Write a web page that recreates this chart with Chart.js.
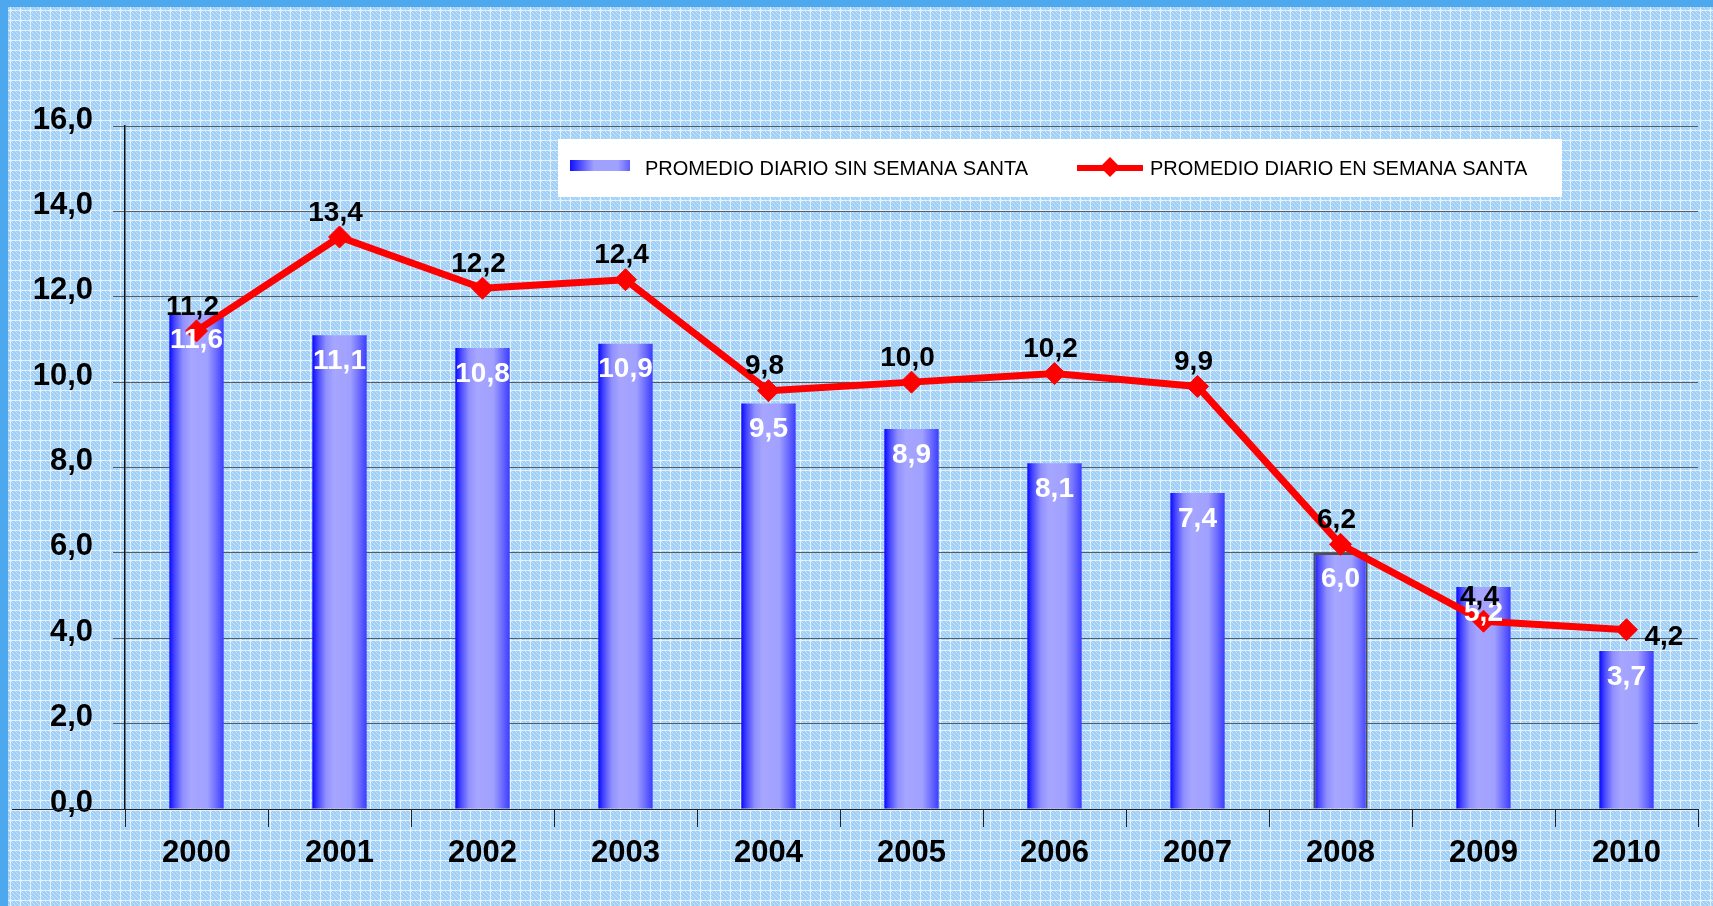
<!DOCTYPE html>
<html>
<head>
<meta charset="utf-8">
<script src="https://cdn.jsdelivr.net/npm/chart.js@4/dist/chart.umd.min.js"></script>
<style>
  html, body { margin: 0; padding: 0; background: #b4dcfa; }
  #wrap { width: 1713px; height: 906px; }
</style>
</head>
<body>
<div id="wrap"><canvas id="chart" width="1713" height="906"></canvas></div>
<script>
const years = ['2000', '2001', '2002', '2003', '2004', '2005', '2006', '2007', '2008', '2009', '2010'];
const sinSemanaSanta = [11.6, 11.1, 10.8, 10.9, 9.5, 8.9, 8.1, 7.4, 6.0, 5.2, 3.7];
const enSemanaSanta = [11.2, 13.4, 12.2, 12.4, 9.8, 10.0, 10.2, 9.9, 6.2, 4.4, 4.2];
const yTicks = [0, 2, 4, 6, 8, 10, 12, 14, 16];

const FONT = "'Liberation Sans', Arial, sans-serif";
const fmt = v => v.toFixed(1).replace('.', ',');

// fondo con textura de cuadricula
function makePattern(ctx) {
  const t = document.createElement('canvas');
  t.width = 10; t.height = 10;
  const c = t.getContext('2d');
  c.fillStyle = '#a2cff6';
  c.fillRect(0, 0, 10, 10);
  for (let y = 1; y < 10; y++) {
    for (let x = 1; x < 10; x++) {
      if ((x * 3 + y * 5) % 4 === 0) { c.fillStyle = '#c4e3fc'; c.fillRect(x, y, 1, 1); }
    }
  }
  c.fillStyle = '#e4f2fe';
  c.fillRect(0, 0, 10, 1);
  c.fillRect(0, 0, 1, 10);
  return ctx.createPattern(t, 'repeat');
}

const background = {
  id: 'background',
  beforeDraw(chart) {
    const ctx = chart.ctx;
    ctx.save();
    ctx.fillStyle = makePattern(ctx);
    ctx.fillRect(0, 0, chart.width, chart.height);
    ctx.fillStyle = '#4ea8ee';
    ctx.fillRect(0, 0, chart.width, 7);
    ctx.fillRect(0, 0, 8, chart.height);
    ctx.restore();
  },
  afterDraw(chart) {
    // la linea base sigue hacia la izquierda del eje
    const ctx = chart.ctx;
    const y0 = chart.scales.y.getPixelForValue(0);
    ctx.save();
    ctx.strokeStyle = '#222';
    ctx.lineWidth = 1;
    ctx.beginPath();
    ctx.moveTo(12, y0 + 0.5);
    ctx.lineTo(chart.chartArea.left, y0 + 0.5);
    ctx.stroke();
    ctx.restore();
  }
};

const valueLabels = {
  id: 'valueLabels',
  afterDatasetsDraw(chart) {
    const ctx = chart.ctx;
    ctx.save();
    ctx.font = 'bold 28px ' + FONT;
    ctx.textBaseline = 'middle';
    const bars = chart.getDatasetMeta(0).data;
    ctx.fillStyle = '#ffffff';
    ctx.textAlign = 'center';
    bars.forEach((b, i) => {
      ctx.fillText(fmt(sinSemanaSanta[i]), b.x, b.y + 26);
    });
    const pts = chart.getDatasetMeta(1).data;
    ctx.fillStyle = '#000000';
    pts.forEach((p, i) => {
      if (i === pts.length - 1) {
        ctx.textAlign = 'left';
        ctx.fillText(fmt(enSemanaSanta[i]), p.x + 18, p.y + 8);
      } else {
        ctx.textAlign = 'center';
        ctx.fillText(fmt(enSemanaSanta[i]), p.x - 4, p.y - 24);
      }
    });
    ctx.restore();
  }
};

const legendBox = {
  id: 'legendBox',
  afterDraw(chart) {
    const ctx = chart.ctx;
    const ds = chart.data.datasets;
    ctx.save();
    ctx.fillStyle = '#ffffff';
    ctx.fillRect(558, 139, 1004, 58);
    // muestra de barras
    const g = ctx.createLinearGradient(570, 0, 630, 0);
    g.addColorStop(0, '#1010ff');
    g.addColorStop(0.4, '#a0a0ff');
    g.addColorStop(0.8, '#a0a0ff');
    g.addColorStop(1, '#6060ff');
    ctx.fillStyle = g;
    ctx.fillRect(570, 160, 60, 11);
    ctx.font = '20px ' + FONT;
    ctx.fillStyle = '#000';
    ctx.textBaseline = 'alphabetic';
    ctx.textAlign = 'left';
    ctx.fillText(ds[0].label, 645, 175);
    // muestra de linea
    ctx.strokeStyle = '#ff0000';
    ctx.lineWidth = 6;
    ctx.beginPath();
    ctx.moveTo(1077, 168);
    ctx.lineTo(1143, 168);
    ctx.stroke();
    ctx.fillStyle = '#ff0000';
    ctx.beginPath();
    ctx.moveTo(1110, 157); ctx.lineTo(1120, 167); ctx.lineTo(1110, 177); ctx.lineTo(1100, 167);
    ctx.closePath();
    ctx.fill();
    ctx.fillStyle = '#000';
    ctx.fillText(ds[1].label, 1150, 175);
    ctx.restore();
  }
};

function barGradient(c) {
  const chart = c.chart;
  const xs = chart.scales.x;
  if (!xs || c.dataIndex === undefined) return '#8080ff';
  const cx = xs.getPixelForValue(c.dataIndex);
  const w = (xs.width / years.length) * 0.38;
  if (!isFinite(cx) || !isFinite(w) || w <= 0) return '#8080ff';
  const g = chart.ctx.createLinearGradient(cx - w / 2, 0, cx + w / 2, 0);
  g.addColorStop(0, '#0a0aff');
  g.addColorStop(0.1, '#4848ff');
  g.addColorStop(0.25, '#9090ff');
  g.addColorStop(0.4, '#a6a6ff');
  g.addColorStop(0.7, '#a0a0ff');
  g.addColorStop(0.85, '#7070ff');
  g.addColorStop(1, '#3c3cff');
  return g;
}

new Chart(document.getElementById('chart'), {
  data: {
    labels: years,
    datasets: [
      {
        type: 'bar',
        label: 'PROMEDIO DIARIO SIN SEMANA SANTA',
        data: sinSemanaSanta,
        backgroundColor: barGradient,
        borderColor: '#505050',
        borderWidth: c => (c.dataIndex === 8 ? 2 : 0),
        categoryPercentage: 1,
        barPercentage: 0.38,
        order: 2
      },
      {
        type: 'line',
        label: 'PROMEDIO DIARIO EN SEMANA SANTA',
        data: enSemanaSanta,
        borderColor: '#ff0000',
        backgroundColor: '#ff0000',
        borderWidth: 7,
        borderJoinStyle: 'round',
        pointStyle: 'rectRot',
        pointRadius: 11,
        pointBorderWidth: 1,
        tension: 0,
        order: 1
      }
    ]
  },
  options: {
    responsive: false,
    animation: false,
    layout: { padding: { left: 0, right: 15, top: 126, bottom: 0 } },
    plugins: {
      legend: { display: false },
      tooltip: { enabled: false }
    },
    scales: {
      x: {
        offset: true,
        grid: { offset: true, drawOnChartArea: false, tickLength: 18, color: '#222', lineWidth: 1 },
        border: { color: '#222', width: 1 },
        ticks: { font: { family: FONT, size: 31, weight: 'bold' }, color: '#000', padding: 8 },
        afterFit: s => { s.height = 97; }
      },
      y: {
        min: 0,
        max: 16,
        afterBuildTicks: s => { s.ticks = yTicks.map(v => ({ value: v })); },
        grid: { color: 'rgba(70,70,70,0.85)', lineWidth: 1, tickLength: 12 },
        border: { color: '#111', width: 1.5 },
        ticks: {
          font: { family: FONT, size: 31, weight: 'bold' },
          color: '#000',
          padding: 20,
          labelOffset: -6,
          callback: v => fmt(v)
        },
        afterFit: s => { s.width = 125; }
      }
    }
  },
  plugins: [background, valueLabels, legendBox]
});
</script>
</body>
</html>
